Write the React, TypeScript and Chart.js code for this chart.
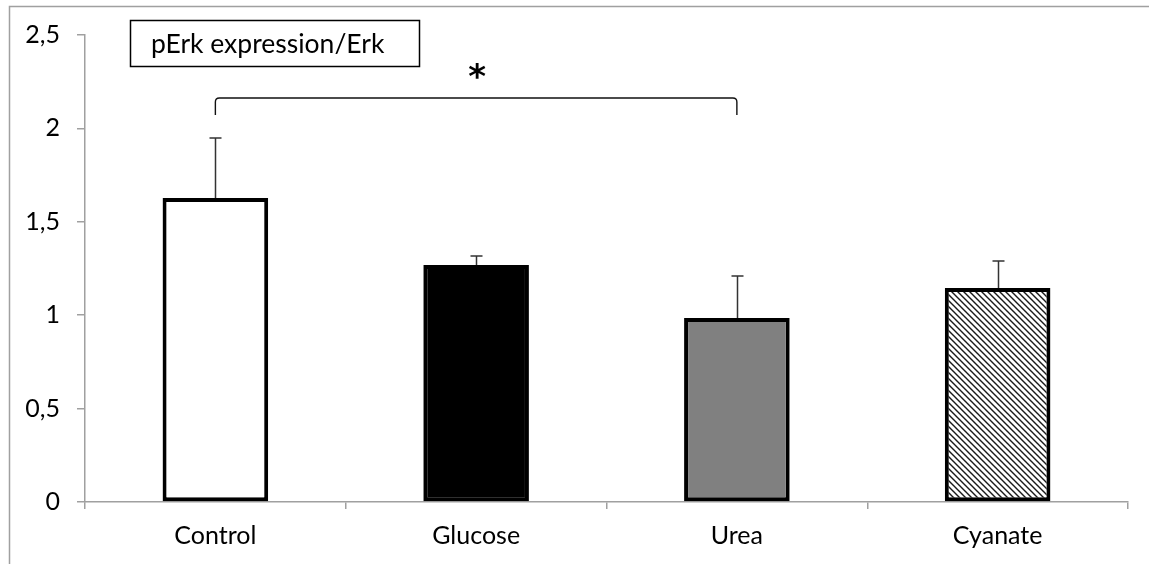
import React, { useEffect, useRef } from "react";
import { Chart, registerables } from "chart.js";

Chart.register(...registerables);

// Data
const categories = ["Control", "Glucose", "Urea", "Cyanate"];
const means = [1.627, 1.269, 0.985, 1.146];
const errors = [0.322, 0.048, 0.225, 0.144];
const yTicks = [0, 0.5, 1, 1.5, 2, 2.5];
const legendText = "pErk expression/Erk";

// Significance bracket between Control (0) and Urea (2)
const bracketFrom = 0;
const bracketTo = 2;
const bracketLevel = 2.163;
const bracketLegEnd = 2.072;
const starLevel = 2.3;

const FONT = "Lato, 'Open Sans', sans-serif";
const AXIS_GRAY = "#a0a0a0";

function makeHatch(): CanvasPattern | string {
  const size = 6;
  const c = document.createElement("canvas");
  c.width = size;
  c.height = size;
  const g = c.getContext("2d");
  if (!g) return "#888";
  g.fillStyle = "#ffffff";
  g.fillRect(0, 0, size, size);
  g.strokeStyle = "#1a1a1a";
  g.lineWidth = 1.4;
  g.beginPath();
  g.moveTo(-1, -1);
  g.lineTo(size + 1, size + 1);
  g.moveTo(-1, size - 1);
  g.lineTo(1, size + 1);
  g.moveTo(size - 1, -1);
  g.lineTo(size + 1, 1);
  g.stroke();
  const p = g.createPattern(c, "repeat");
  return p || "#888";
}

const framePlugin = {
  id: "frame",
  beforeDraw(chart: any) {
    const ctx = chart.ctx;
    ctx.save();
    ctx.fillStyle = "#ffffff";
    ctx.fillRect(0, 0, chart.width, chart.height);
    ctx.strokeStyle = AXIS_GRAY;
    ctx.lineWidth = 1.5;
    ctx.beginPath();
    ctx.moveTo(9.5, chart.height);
    ctx.lineTo(9.5, 6.5);
    ctx.lineTo(chart.width, 6.5);
    ctx.stroke();
    ctx.restore();
  },
};

const errorBarPlugin = {
  id: "errorBars",
  afterDatasetsDraw(chart: any) {
    const ctx = chart.ctx;
    const meta = chart.getDatasetMeta(0);
    const y = chart.scales.y;
    ctx.save();
    ctx.strokeStyle = "#333333";
    ctx.lineWidth = 1.5;
    meta.data.forEach((bar: any, i: number) => {
      const x = Math.round(bar.x) + 0.5;
      const top = y.getPixelForValue(means[i] + errors[i]);
      const base = y.getPixelForValue(means[i]);
      ctx.beginPath();
      ctx.moveTo(x, base);
      ctx.lineTo(x, top);
      ctx.moveTo(x - 6, top);
      ctx.lineTo(x + 6, top);
      ctx.stroke();
    });
    ctx.restore();
  },
};

const annotationPlugin = {
  id: "annotations",
  afterDraw(chart: any) {
    const ctx = chart.ctx;
    const xs = chart.scales.x;
    const ys = chart.scales.y;
    ctx.save();

    // Legend box
    ctx.strokeStyle = "#000000";
    ctx.lineWidth = 1.5;
    ctx.strokeRect(130.5, 20.5, 289, 46);
    ctx.fillStyle = "#000000";
    ctx.font = `26.5px ${FONT}`;
    ctx.textAlign = "left";
    ctx.textBaseline = "middle";
    ctx.fillText(legendText, 151, 44);

    // Significance bracket
    const x1 = xs.getPixelForValue(bracketFrom);
    const x2 = xs.getPixelForValue(bracketTo);
    const yTop = ys.getPixelForValue(bracketLevel);
    const yLeg = ys.getPixelForValue(bracketLegEnd);
    const r = 4;
    ctx.lineWidth = 1.4;
    ctx.strokeStyle = "#111111";
    ctx.beginPath();
    ctx.moveTo(x1, yLeg);
    ctx.lineTo(x1, yTop + r);
    ctx.quadraticCurveTo(x1, yTop, x1 + r, yTop);
    ctx.lineTo(x2 - r, yTop);
    ctx.quadraticCurveTo(x2, yTop, x2, yTop + r);
    ctx.lineTo(x2, yLeg);
    ctx.stroke();

    // Star
    ctx.font = `bold 34px 'DejaVu Sans', sans-serif`;
    ctx.textAlign = "center";
    ctx.textBaseline = "middle";
    ctx.fillText("*", (x1 + x2) / 2 + 1, ys.getPixelForValue(starLevel) + 7);
    ctx.restore();
  },
};

export default function App() {
  const canvasRef = useRef<HTMLCanvasElement | null>(null);

  useEffect(() => {
    const canvas = canvasRef.current;
    if (!canvas) return;
    const hatch = makeHatch();
    const chart = new Chart(canvas, {
      type: "bar",
      data: {
        labels: categories,
        datasets: [
          {
            data: means,
            backgroundColor: ["#ffffff", "#000000", "#808080", hatch as any],
            borderColor: "#000000",
            borderWidth: 4,
            borderSkipped: false,
            barPercentage: 0.405,
            categoryPercentage: 1,
          },
        ],
      },
      options: {
        animation: false,
        responsive: true,
        maintainAspectRatio: false,
        events: [],
        layout: { padding: { left: 0, top: 35, right: 21, bottom: 0 } },
        plugins: {
          legend: { display: false },
          tooltip: { enabled: false },
          title: { display: false },
        },
        scales: {
          x: {
            offset: true,
            grid: {
              display: true,
              offset: true,
              drawOnChartArea: false,
              drawTicks: true,
              tickLength: 7,
              color: AXIS_GRAY,
              lineWidth: 1.5,
            },
            border: { display: true, color: AXIS_GRAY, width: 1.5 },
            ticks: {
              color: "#000000",
              font: { family: FONT, size: 25 },
              padding: 12,
            },
            afterFit(scale: any) {
              scale.height = 62;
            },
          },
          y: {
            min: 0,
            max: 2.5,
            afterBuildTicks(scale: any) {
              scale.ticks = yTicks.map((v) => ({ value: v }));
            },
            grid: {
              display: true,
              drawOnChartArea: false,
              drawTicks: true,
              tickLength: 8,
              color: AXIS_GRAY,
              lineWidth: 1.5,
            },
            border: { display: true, color: AXIS_GRAY, width: 1.5 },
            ticks: {
              color: "#000000",
              font: { family: FONT, size: 25 },
              padding: 17,
              callback: (v: any) => String(v).replace(".", ","),
            },
            afterFit(scale: any) {
              scale.width = 85;
            },
          },
        },
      },
      plugins: [framePlugin, errorBarPlugin, annotationPlugin],
    });
    return () => chart.destroy();
  }, []);

  return (
    <div style={{ position: "absolute", left: 0, top: 0, width: 1149, height: 564 }}>
      <canvas ref={canvasRef} />
    </div>
  );
}
